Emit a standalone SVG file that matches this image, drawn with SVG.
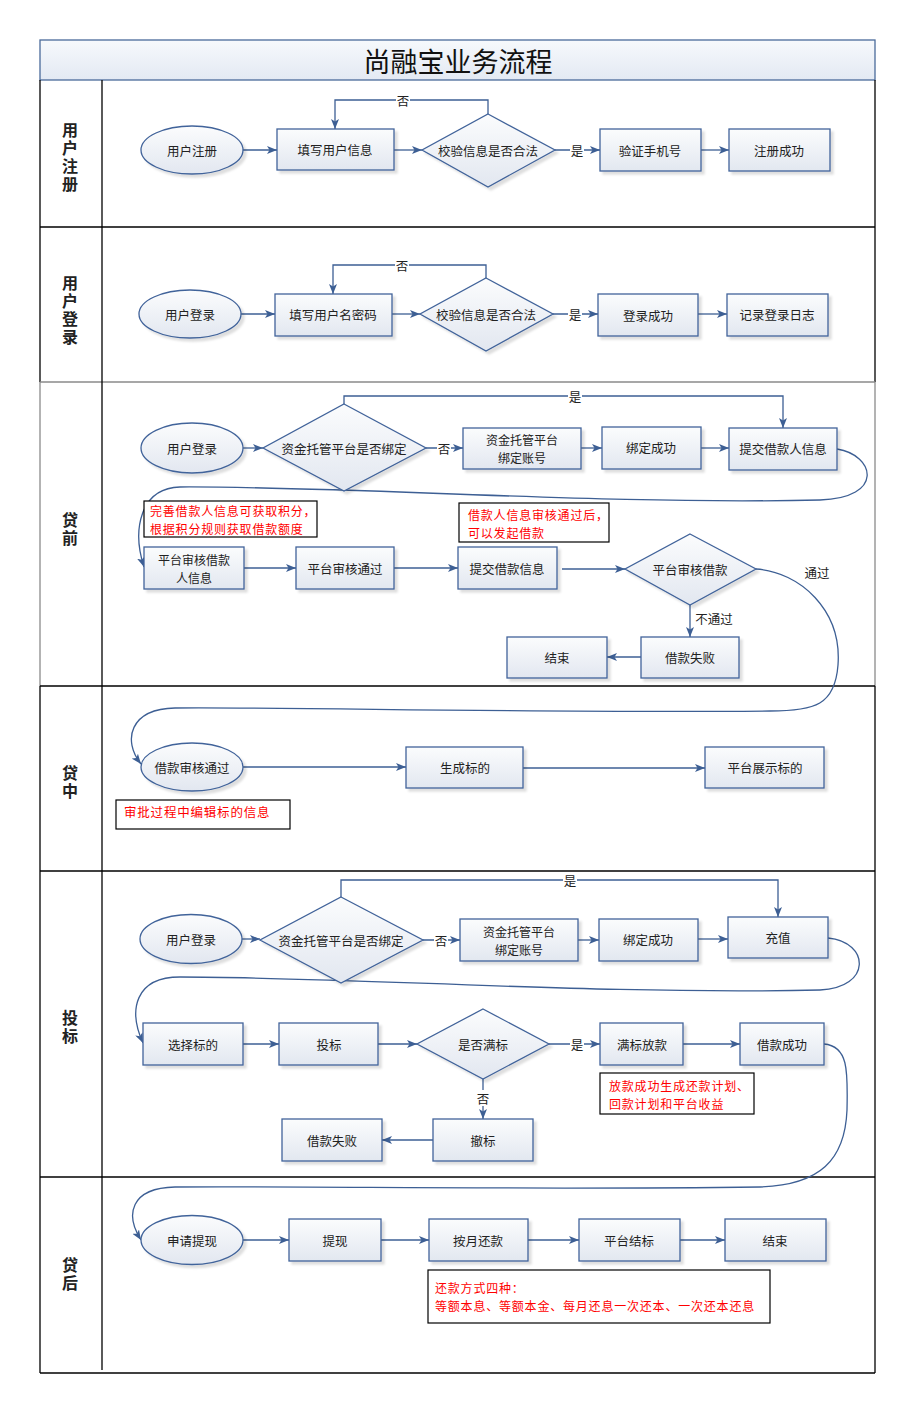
<svg xmlns="http://www.w3.org/2000/svg" width="917" height="1411" viewBox="0 0 917 1411">
<style>
.n{fill:url(#g);stroke:#41639a;stroke-width:1.3;filter:url(#sh)}
.t{font-family:"Noto Sans CJK SC","Liberation Sans",sans-serif;font-size:12.5px;fill:#222;text-anchor:middle;dominant-baseline:central}
.t2{font-size:12px}
.c{fill:none;stroke:#3d5f94;stroke-width:1.3;marker-end:url(#a)}
.lab{font-family:"Noto Sans CJK SC","Liberation Sans",sans-serif;font-size:12.5px;fill:#222;text-anchor:middle;dominant-baseline:central}
.lb{fill:#fff}
.ln{font-family:"Noto Sans CJK SC","Liberation Sans",sans-serif;font-size:16px;font-weight:bold;fill:#222;text-anchor:middle;writing-mode:vertical-rl;letter-spacing:2px}
.note{fill:#fff;stroke:#000;stroke-width:1.2}
.nt{font-family:"Noto Sans CJK SC","Liberation Sans",sans-serif;font-size:12.5px;fill:#f00;letter-spacing:0.8px}
.nt2{font-size:12px;dominant-baseline:central}
.fb{stroke:#000;stroke-width:1.3}
.fg{stroke:#8a8a8a;stroke-width:1.3}
</style>
<defs>
<linearGradient id="g" x1="0" y1="0" x2="0" y2="1"><stop offset="0" stop-color="#fbfcfd"/><stop offset="1" stop-color="#e2e7f0"/></linearGradient>
<linearGradient id="tg" x1="0" y1="0" x2="0" y2="1"><stop offset="0" stop-color="#f7f9fc"/><stop offset="1" stop-color="#e3e9f3"/></linearGradient>
<filter id="sh" x="-10%" y="-10%" width="130%" height="140%"><feDropShadow dx="3" dy="3" stdDeviation="1.2" flood-color="#000" flood-opacity="0.13"/></filter>
<marker id="a" viewBox="0 0 10 8" refX="10" refY="4" markerWidth="10" markerHeight="8" markerUnits="userSpaceOnUse" orient="auto"><path d="M0,0 L10,4 L0,8 L2.5,4 z" fill="#3d5f94"/></marker>
</defs>

<g id="frame">
<rect x="40" y="40" width="835" height="40" fill="url(#tg)" stroke="#4a6a9a" stroke-width="1.3"/>
<text x="458" y="60" font-family="'Noto Sans CJK SC',sans-serif" font-size="27" fill="#111" text-anchor="middle" dominant-baseline="central">尚融宝业务流程</text>
<line class="fb" x1="40" y1="80" x2="40" y2="382"/>
<line class="fg" x1="40" y1="382" x2="40" y2="686"/>
<line class="fb" x1="40" y1="686" x2="40" y2="1373"/>
<line class="fb" x1="875" y1="80" x2="875" y2="382"/>
<line class="fg" x1="875" y1="382" x2="875" y2="686"/>
<line class="fb" x1="875" y1="686" x2="875" y2="1373"/>
<line class="fb" x1="40" y1="227" x2="875" y2="227"/>
<line class="fg" x1="40" y1="382" x2="875" y2="382"/>
<line class="fb" x1="40" y1="686" x2="875" y2="686"/>
<line class="fb" x1="40" y1="871" x2="875" y2="871"/>
<line class="fb" x1="40" y1="1177" x2="875" y2="1177"/>
<line class="fb" x1="40" y1="1373" x2="875" y2="1373"/>
<line class="fb" x1="102" y1="80" x2="102" y2="1370"/>
</g>

<g id="lane-labels">
<text class="ln" x="70" y="158">用户注册</text>
<text class="ln" x="70" y="311">用户登录</text>
<text class="ln" x="70" y="530">贷前</text>
<text class="ln" x="70" y="783">贷中</text>
<text class="ln" x="70" y="1028">投标</text>
<text class="ln" x="70" y="1275" font-weight="normal">贷后</text>
</g>

<g id="connectors">
<path class="c" d="M243,150 H277"/>
<path class="c" d="M394,150 H422"/>
<path class="c" d="M555,150 H600"/>
<path class="c" d="M701,150 H729"/>
<path class="c" d="M488,114 V100 H335 V129"/>
<path class="c" d="M241,314 H275"/>
<path class="c" d="M392,314 H420"/>
<path class="c" d="M553,314 H598"/>
<path class="c" d="M698,314 H727"/>
<path class="c" d="M486,278 V265 H333 V294"/>
<path class="c" d="M243,448 H263"/>
<path class="c" d="M426,448 H463"/>
<path class="c" d="M581,448 H602"/>
<path class="c" d="M701,448 H729"/>
<path class="c" d="M344,404 V396 H783 V428"/>
<path class="c" d="M837,449 C875,455 885,498 820,500 C600,505 350,486 180,487 C140,488 132,530 144,567"/>
<path class="c" d="M244,568 H296"/>
<path class="c" d="M394,568 H458"/>
<path class="c" d="M562,569 H625"/>
<path class="c" d="M690,605 V637"/>
<path class="c" d="M641,657 H607"/>
<path class="c" d="M756,569 C800,572 842,610 838,665 C835,705 815,711 770,711 C520,713 300,707 175,708 C130,709 122,740 141,764"/>
<path class="c" d="M243,767 H406"/>
<path class="c" d="M523,768 H705"/>
<path class="c" d="M242,939 H260"/>
<path class="c" d="M423,940 H460"/>
<path class="c" d="M578,940 H599"/>
<path class="c" d="M698,939 H728"/>
<path class="c" d="M341,897 V880 H778 V917"/>
<path class="c" d="M828,938 C870,942 872,988 820,990 C600,995 350,977 180,977 C135,977 128,1010 143,1043"/>
<path class="c" d="M243,1044 H279"/>
<path class="c" d="M378,1044 H417"/>
<path class="c" d="M549,1044 H600"/>
<path class="c" d="M683,1044 H740"/>
<path class="c" d="M483,1079 V1119"/>
<path class="c" d="M433,1140 H382"/>
<path class="c" d="M824,1044 C848,1046 848,1070 847,1110 C845,1160 820,1185 760,1187 C520,1190 320,1186 175,1187 C130,1188 125,1215 141,1240"/>
<path class="c" d="M243,1240 H289"/>
<path class="c" d="M381,1240 H429"/>
<path class="c" d="M528,1240 H579"/>
<path class="c" d="M680,1240 H725"/>
<rect class="lb" x="396" y="92" width="14" height="16"/><text class="lab" x="403" y="100">否</text>
<rect class="lb" x="570" y="142" width="14" height="16"/><text class="lab" x="577" y="150">是</text>
<rect class="lb" x="395" y="257" width="14" height="16"/><text class="lab" x="402" y="265">否</text>
<rect class="lb" x="568" y="306" width="14" height="16"/><text class="lab" x="575" y="314">是</text>
<rect class="lb" x="568" y="388" width="14" height="16"/><text class="lab" x="575" y="396">是</text>
<rect class="lb" x="437" y="440" width="14" height="16"/><text class="lab" x="444" y="448">否</text>
<text class="lab" x="714" y="618">不通过</text>
<text class="lab" x="817" y="572">通过</text>
<rect class="lb" x="563" y="872" width="14" height="16"/><text class="lab" x="570" y="880">是</text>
<rect class="lb" x="434" y="932" width="14" height="16"/><text class="lab" x="441" y="940">否</text>
<rect class="lb" x="570" y="1036" width="14" height="16"/><text class="lab" x="577" y="1044">是</text>
<rect class="lb" x="476" y="1090" width="14" height="16"/><text class="lab" x="483" y="1098">否</text>
</g>

<g id="n-reg"><ellipse class="n" cx="192" cy="150" rx="51" ry="24"/><text class="t" x="192" y="150">用户注册</text></g>
<g id="n-fill-info"><rect class="n" x="277" y="129" width="117" height="41"/><text class="t" x="335" y="149.5">填写用户信息</text></g>
<g id="n-check1"><polygon class="n" points="488,114 555,150 488,187 422,150"/><text class="t" x="488" y="150">校验信息是否合法</text></g>
<g id="n-phone"><rect class="n" x="600" y="129" width="101" height="42"/><text class="t" x="650" y="150">验证手机号</text></g>
<g id="n-reg-ok"><rect class="n" x="729" y="129" width="101" height="42"/><text class="t" x="779" y="150">注册成功</text></g>

<g id="n-login"><ellipse class="n" cx="190" cy="314" rx="51" ry="24"/><text class="t" x="190" y="314">用户登录</text></g>
<g id="n-fill-pwd"><rect class="n" x="275" y="294" width="117" height="42"/><text class="t" x="333" y="314">填写用户名密码</text></g>
<g id="n-check2"><polygon class="n" points="486,278 553,314 486,351 420,314"/><text class="t" x="486" y="314">校验信息是否合法</text></g>
<g id="n-login-ok"><rect class="n" x="598" y="294" width="100" height="42"/><text class="t" x="648" y="315">登录成功</text></g>
<g id="n-log"><rect class="n" x="727" y="294" width="101" height="42"/><text class="t" x="777" y="314">记录登录日志</text></g>

<g id="n-login3"><ellipse class="n" cx="192" cy="448" rx="51" ry="25"/><text class="t" x="192" y="448">用户登录</text></g>
<g id="n-bind-q1"><polygon class="n" points="344,404 426,448 344,491 263,448"/><text class="t" x="344" y="448">资金托管平台是否绑定</text></g>
<g id="n-bind1"><rect class="n" x="463" y="428" width="118" height="41"/><text class="t t2" x="522" y="439.5">资金托管平台</text><text class="t t2" x="522" y="457.5">绑定账号</text></g>
<g id="n-bind-ok1"><rect class="n" x="602" y="427" width="99" height="42"/><text class="t" x="651" y="447">绑定成功</text></g>
<g id="n-submit-borrower"><rect class="n" x="729" y="428" width="108" height="42"/><text class="t" x="783" y="448">提交借款人信息</text></g>
<g id="note1"><rect class="note" x="144" y="501" width="173" height="36"/><text class="nt nt2" x="150" y="510.5">完善借款人信息可获取积分，</text><text class="nt nt2" x="150" y="528.5">根据积分规则获取借款额度</text></g>
<g id="note2"><rect class="note" x="459" y="503" width="150" height="39"/><text class="nt nt2" x="468" y="514">借款人信息审核通过后，</text><text class="nt nt2" x="468" y="532">可以发起借款</text></g>
<g id="n-audit-borrower"><rect class="n" x="144" y="547" width="100" height="42"/><text class="t t2" x="194" y="559">平台审核借款</text><text class="t t2" x="194" y="577">人信息</text></g>
<g id="n-audit-ok"><rect class="n" x="296" y="547" width="98" height="42"/><text class="t" x="345" y="568">平台审核通过</text></g>
<g id="n-submit-loan"><rect class="n" x="458" y="547" width="99" height="42"/><text class="t" x="507" y="568">提交借款信息</text></g>
<g id="n-audit-loan"><polygon class="n" points="690,534 756,569 690,605 625,569"/><text class="t" x="690" y="569">平台审核借款</text></g>
<g id="n-loan-fail1"><rect class="n" x="641" y="637" width="98" height="41"/><text class="t" x="690" y="657">借款失败</text></g>
<g id="n-end1"><rect class="n" x="507" y="637" width="100" height="41"/><text class="t" x="557" y="657">结束</text></g>

<g id="n-loan-pass"><ellipse class="n" cx="192" cy="767" rx="51" ry="24"/><text class="t" x="192" y="767">借款审核通过</text></g>
<g id="n-gen"><rect class="n" x="406" y="747" width="117" height="41"/><text class="t" x="465" y="767">生成标的</text></g>
<g id="n-show"><rect class="n" x="705" y="747" width="119" height="41"/><text class="t" x="765" y="767">平台展示标的</text></g>
<g id="note3"><rect class="note" x="116" y="800" width="174" height="29"/><text class="nt" x="124" y="817">审批过程中编辑标的信息</text></g>

<g id="n-login5"><ellipse class="n" cx="191" cy="939" rx="51" ry="24.5"/><text class="t" x="191" y="939">用户登录</text></g>
<g id="n-bind-q2"><polygon class="n" points="341,897 423,940 341,983 260,940"/><text class="t" x="341" y="940">资金托管平台是否绑定</text></g>
<g id="n-bind2"><rect class="n" x="460" y="919" width="118" height="42"/><text class="t t2" x="519" y="931">资金托管平台</text><text class="t t2" x="519" y="949">绑定账号</text></g>
<g id="n-bind-ok2"><rect class="n" x="599" y="919" width="99" height="42"/><text class="t" x="648" y="939">绑定成功</text></g>
<g id="n-recharge"><rect class="n" x="728" y="917" width="100" height="41"/><text class="t" x="778" y="937">充值</text></g>
<g id="n-choose"><rect class="n" x="143" y="1023" width="100" height="42"/><text class="t" x="193" y="1044">选择标的</text></g>
<g id="n-bid"><rect class="n" x="279" y="1023" width="99" height="42"/><text class="t" x="329" y="1044">投标</text></g>
<g id="n-full-q"><polygon class="n" points="483,1009 549,1044 483,1079 417,1044"/><text class="t" x="483" y="1044">是否满标</text></g>
<g id="n-release"><rect class="n" x="600" y="1023" width="83" height="42"/><text class="t" x="642" y="1044">满标放款</text></g>
<g id="n-loan-ok"><rect class="n" x="740" y="1023" width="84" height="42"/><text class="t" x="782" y="1044">借款成功</text></g>
<g id="n-cancel"><rect class="n" x="433" y="1119" width="100" height="42"/><text class="t" x="483" y="1140">撤标</text></g>
<g id="n-loan-fail2"><rect class="n" x="282" y="1119" width="100" height="42"/><text class="t" x="332" y="1140">借款失败</text></g>
<g id="note4"><rect class="note" x="600" y="1073" width="154" height="41"/><text class="nt nt2" x="609" y="1085">放款成功生成还款计划、</text><text class="nt nt2" x="609" y="1103">回款计划和平台收益</text></g>

<g id="n-withdraw-apply"><ellipse class="n" cx="192" cy="1240" rx="51" ry="24.5"/><text class="t" x="192" y="1240">申请提现</text></g>
<g id="n-withdraw"><rect class="n" x="289" y="1219" width="92" height="42"/><text class="t" x="335" y="1240">提现</text></g>
<g id="n-repay"><rect class="n" x="429" y="1219" width="99" height="42"/><text class="t" x="478" y="1240">按月还款</text></g>
<g id="n-settle"><rect class="n" x="579" y="1219" width="101" height="42"/><text class="t" x="629" y="1240">平台结标</text></g>
<g id="n-end2"><rect class="n" x="725" y="1219" width="101" height="42"/><text class="t" x="775" y="1240">结束</text></g>
<g id="note5"><rect class="note" x="428" y="1270" width="342" height="53"/><text class="nt nt2" x="435" y="1287">还款方式四种：</text><text class="nt nt2" x="435" y="1305">等额本息、等额本金、每月还息一次还本、一次还本还息</text></g>
</svg>
